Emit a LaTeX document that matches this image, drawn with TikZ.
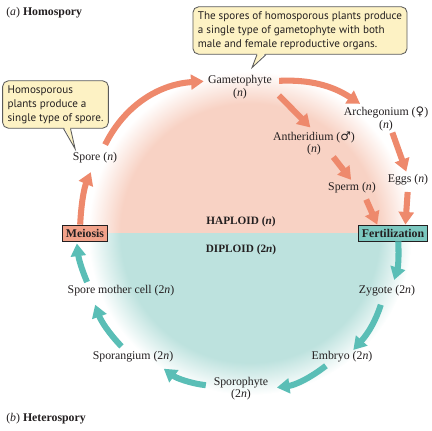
\documentclass[tikz,border=0pt]{standalone}
\usepackage{fontspec}
\setmainfont{Liberation Serif}
\newfontfamily\notefont{PT Sans}
\newfontfamily\sexfont{DejaVu Sans}
\usetikzlibrary{arrows.meta, positioning, calc}
\definecolor{labeltext}{HTML}{231F20}
\definecolor{haplofill}{HTML}{F8D2C4}
\definecolor{diplofill}{HTML}{BDE2DE}
\definecolor{haploarrow}{HTML}{EE896C}
\definecolor{diploarrow}{HTML}{5ABEB6}
\definecolor{meiofill}{HTML}{F2A28A}
\definecolor{fertfill}{HTML}{7CC8C0}
\definecolor{notefill}{HTML}{FDF2C4}
\definecolor{noteline}{HTML}{5A5A5A}
\pgfdeclareradialshading{haplofade}{\pgfpointorigin}{color(0bp)=(haplofill); color(20bp)=(haplofill); color(25bp)=(white); color(50bp)=(white)}
\pgfdeclareradialshading{diplofade}{\pgfpointorigin}{color(0bp)=(diplofill); color(20bp)=(diplofill); color(25bp)=(white); color(50bp)=(white)}
\newcommand{\hn}{(\textit{n})}
\newcommand{\dn}{(2\textit{n})}
\tikzset{
  stage/.style={font=\fontsize{8.4}{9}\selectfont, text=labeltext, align=center, inner sep=1pt},
  phase/.style={font=\fontsize{8}{9}\selectfont\bfseries, text=labeltext},
  event/.style={draw=labeltext, line width=0.6pt, font=\fontsize{8.4}{9}\selectfont\bfseries,
    text=labeltext, inner xsep=2.5pt, inner ysep=1pt, minimum height=11.3pt},
  note/.style={draw=noteline, fill=notefill, line width=0.6pt, rounded corners=4pt,
    font=\notefont\fontsize{7.9}{9.9}\selectfont, text=labeltext, align=left, inner xsep=3.5pt},
  noteside/.style={draw=noteline, line width=0.6pt},
  hap/.style={draw=haploarrow, line width=4.3pt, -{Triangle[length=9pt,width=10.5pt]}},
  dip/.style={draw=diploarrow, line width=4.3pt, -{Triangle[length=9pt,width=10.5pt]}}
}

\begin{document}
\begin{tikzpicture}[x=0.025cm, y=0.025cm]
  \useasboundingbox (0,0) rectangle (432,430);

  % haploid / diploid halves
  \coordinate (hub) at (250,197);
  \begin{scope}
    \clip (60,197) rectangle (440,380);
    \shade[shading=haplofade] (hub) circle (162);
  \end{scope}
  \begin{scope}
    \clip (60,197) rectangle (440,20);
    \shade[shading=diplofade] (hub) circle (162);
  \end{scope}

  \node[inner sep=0, anchor=west, font=\fontsize{8.4}{9}\selectfont, text=labeltext] (parta) at (6,417) {(\textit{a})\ \textbf{Homospory}};
  \node[inner sep=0, anchor=west, font=\fontsize{8.4}{9}\selectfont, text=labeltext] (partb) at (6,11) {(\textit{b})\ \textbf{Heterospory}};

  % haploid stages
  \node[stage] (gameto) at (240,343) {Gametophyte\\\hn};
  \node[stage] (spore) at (95,272) {Spore \hn};
  \node[stage] (arche) at (386,311) {Archegonium ({\sexfont ♀})\\\hn};
  \node[stage] (anther) at (314,286.5) {Antheridium ({\sexfont ♂})\\\hn};
  \node[stage] (sperm) at (352,242) {Sperm \hn};
  \node[stage] (eggs) at (408,250) {Eggs \hn};
  \node[phase] (haplo) at (241,208) {HAPLOID (\textit{n})};
  \node[phase] (diplo) at (241,180) {DIPLOID (2\textit{n})};

  \node[event, fill=meiofill] (meio) at (85,197) {Meiosis};
  \node[event, fill=fertfill] (fert) at (393,197) {Fertilization};

  % diploid stages
  \node[stage] (zygote) at (387,139) {Zygote \dn};
  \node[stage] (embryo) at (342,73) {Embryo \dn};
  \node[stage] (sporoph) at (241,41.5) {Sporophyte\\\dn};
  \node[stage] (sporang) at (133,73) {Sporangium \dn};
  \node[stage] (smc) at (121,139) {Spore mother cell \dn};

  % haploid arrows
  \draw[hap, shorten <=5pt, shorten >=2pt] (spore.45) to[bend left=30] (gameto.170);
  \draw[hap, shorten >=5.5pt] (meio.120) to[bend left=10] (spore.260);
  \draw[hap, shorten <=4pt, shorten >=2pt] (gameto.10) to[bend left=18] (arche.150);
  \draw[hap, shorten <=5.5pt, shorten >=2.5pt] (gameto.-5) -- (anther.95);
  \draw[hap, shorten >=1pt] (anther.-35) -- (sperm.north);
  \draw[hap, shorten >=1pt] (arche.-65) -- (eggs.100);
  \draw[hap, shorten <=3.5pt] (sperm.-30) -- (fert.152);
  \draw[hap, shorten <=3.5pt] (eggs.south) -- (fert.34);

  % diploid arrows
  \draw[dip, shorten >=3pt] (fert.-58) to[bend left=10] (zygote.50);
  \draw[dip, shorten <=5pt] (zygote.-120) to[bend left=12] (embryo.32);
  \draw[dip, shorten <=2pt, shorten >=5pt] (embryo.-153) to[bend left=15] (sporoph.east);
  \draw[dip, shorten <=4.5pt, shorten >=5.5pt] (sporoph.175) to[bend left=15] (sporang.-16);
  \draw[dip, shorten <=3.5pt, shorten >=5pt] (sporang.139) to[bend left=12] (smc.-166);
  \draw[dip, shorten <=1.5pt, shorten >=1.5pt] (smc.168) to[bend left=8] (meio.-135);

  % callouts
  \node[note, minimum width=73pt, minimum height=32pt] (spnote) at (55.5,325.5) {Homosporous\\plants produce a\\single type of spore.};
  \coordinate (stip) at ([shift={(4,2)}]spore.north west);
  \fill[notefill] ([shift={(8.5,1.5)}]spnote.south) -- (stip) -- ([shift={(14.5,1.5)}]spnote.south) -- cycle;
  \draw[noteside] ([shift={(8,0)}]spnote.south) -- (stip) -- ([shift={(15,0)}]spnote.south);

  \node[note, minimum width=149pt, minimum height=32pt] (gnote) at (300,399.5) {The spores of homosporous plants produce\\a single type of gametophyte with both\\male and female reproductive organs.};
  \coordinate (gtip) at ([shift={(12,6)}]gameto.north);
  \fill[notefill] ([shift={(-42.5,1.5)}]gnote.south) -- (gtip) -- ([shift={(-34.5,1.5)}]gnote.south) -- cycle;
  \draw[noteside] ([shift={(-43,0)}]gnote.south) -- (gtip) -- ([shift={(-34,0)}]gnote.south);
\end{tikzpicture}
\end{document}
